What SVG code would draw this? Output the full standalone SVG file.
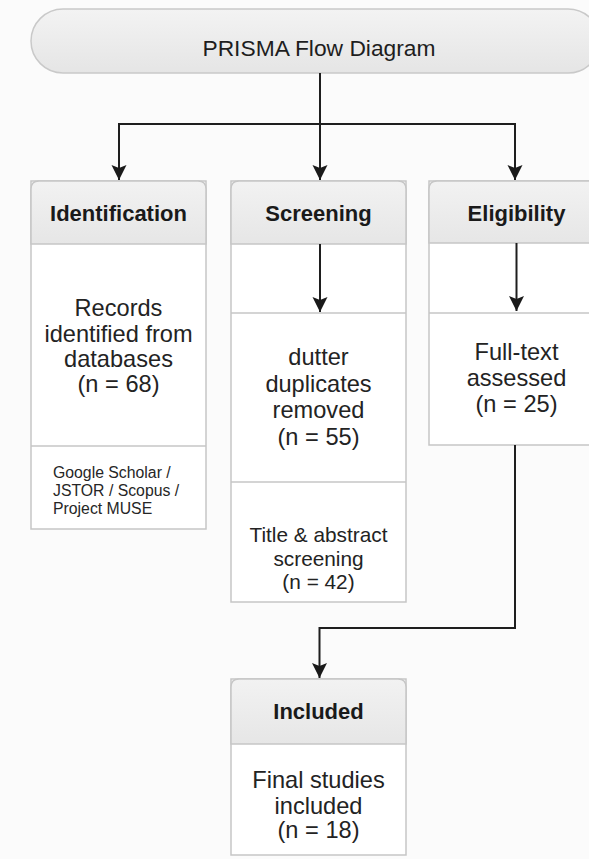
<svg xmlns="http://www.w3.org/2000/svg" width="589" height="859" viewBox="0 0 589 859">
  <defs>
    <linearGradient id="hdr" x1="0" y1="0" x2="0" y2="1">
      <stop offset="0" stop-color="#f2f2f2"/>
      <stop offset="1" stop-color="#e6e6e6"/>
    </linearGradient>
    <linearGradient id="pill" x1="0" y1="0" x2="0" y2="1">
      <stop offset="0" stop-color="#f3f3f3"/>
      <stop offset="1" stop-color="#e5e5e5"/>
    </linearGradient>
    <marker id="arr" markerUnits="userSpaceOnUse" markerWidth="15" markerHeight="16" refX="15" refY="7.5" orient="auto">
      <path d="M0,0 L15,7.5 L0,15 L3,7.5 z" fill="#1a1a1a"/>
    </marker>
  </defs>
  <style>
    .box { fill: #ffffff; stroke: #c6c6c6; stroke-width: 1.5; }
    .hdr { fill: url(#hdr); stroke: #c6c6c6; stroke-width: 1.5; }
    .sep { stroke: #c6c6c6; stroke-width: 1.5; fill: none; }
    .title { font-family: "Liberation Sans", Arial, sans-serif; font-size: 22.8px; fill: #1e1e1e; text-anchor: middle; }
    .head { font-family: "Liberation Sans", Arial, sans-serif; font-size: 22px; font-weight: bold; fill: #1a1a1a; text-anchor: middle; }
    .body { font-family: "Liberation Sans", Arial, sans-serif; font-size: 23.6px; fill: #232323; text-anchor: middle; }
    .body2 { font-family: "Liberation Sans", Arial, sans-serif; font-size: 20.8px; fill: #232323; text-anchor: middle; }
    .small { font-family: "Liberation Sans", Arial, sans-serif; font-size: 15.8px; fill: #262626; }
    .con { stroke: #1e1e1e; stroke-width: 2; fill: none; }
  </style>
  <rect x="0" y="0" width="589" height="859" fill="#fbfbfb"/>

  <g id="title">
    <rect x="31" y="9" width="569" height="64" rx="32" ry="32" fill="url(#pill)" stroke="#c9c9c9" stroke-width="1.5"/>
    <text class="title" x="319" y="56">PRISMA Flow Diagram</text>
  </g>

  <g id="identification">
    <rect class="box" x="31" y="181" width="175" height="348"/>
    <path class="hdr" d="M31,244 L31,189 Q31,181 39,181 L198,181 Q206,181 206,189 L206,244 Z"/>
    <text class="head" x="118.5" y="221">Identification</text>
    <text class="body" x="118.5" y="316">Records</text>
    <text class="body" x="118.5" y="341.5">identified from</text>
    <text class="body" x="118.5" y="367">databases</text>
    <text class="body" x="118.5" y="392">(n = 68)</text>
    <line class="sep" x1="31" y1="446" x2="206" y2="446"/>
    <text class="small" x="53" y="478">Google Scholar /</text>
    <text class="small" x="53" y="496">JSTOR / Scopus /</text>
    <text class="small" x="53" y="513.5">Project MUSE</text>
  </g>

  <g id="screening">
    <rect class="box" x="231" y="181" width="175" height="421"/>
    <path class="hdr" d="M231,244 L231,189 Q231,181 239,181 L398,181 Q406,181 406,189 L406,244 Z"/>
    <text class="head" x="318.5" y="221">Screening</text>
    <line class="sep" x1="231" y1="313" x2="406" y2="313"/>
    <text class="body" x="318.5" y="365">dutter</text>
    <text class="body" x="318.5" y="391.5">duplicates</text>
    <text class="body" x="318.5" y="418">removed</text>
    <text class="body" x="318.5" y="444.5">(n = 55)</text>
    <line class="sep" x1="231" y1="482" x2="406" y2="482"/>
    <text class="body2" x="318.5" y="541.5">Title &amp; abstract</text>
    <text class="body2" x="318.5" y="566">screening</text>
    <text class="body2" x="318.5" y="589">(n = 42)</text>
  </g>

  <g id="eligibility">
    <rect class="box" x="429" y="181" width="175" height="264"/>
    <path class="hdr" d="M429,243 L429,189 Q429,181 437,181 L596,181 Q604,181 604,189 L604,243 Z"/>
    <text class="head" x="516.5" y="221">Eligibility</text>
    <line class="sep" x1="429" y1="313" x2="604" y2="313"/>
    <text class="body" x="516.5" y="360">Full-text</text>
    <text class="body" x="516.5" y="386">assessed</text>
    <text class="body" x="516.5" y="412">(n = 25)</text>
  </g>

  <g id="included">
    <rect class="box" x="231" y="679" width="175" height="176"/>
    <path class="hdr" d="M231,744 L231,687 Q231,679 239,679 L398,679 Q406,679 406,687 L406,744 Z"/>
    <text class="head" x="318.5" y="719">Included</text>
    <text class="body" x="318.5" y="788">Final studies</text>
    <text class="body" x="318.5" y="814">included</text>
    <text class="body" x="318.5" y="838">(n = 18)</text>
  </g>

  <g id="connectors">
    <line class="con" x1="320" y1="73" x2="320" y2="180" marker-end="url(#arr)"/>
    <polyline class="con" points="119,180 119,124 515,124 515,180" marker-end="url(#arr)"/>
    <line class="con" x1="119" y1="124" x2="119" y2="180" marker-end="url(#arr)"/>
    <line class="con" x1="320" y1="244" x2="320" y2="312" marker-end="url(#arr)"/>
    <line class="con" x1="516.5" y1="243" x2="516.5" y2="311" marker-end="url(#arr)"/>
    <polyline class="con" points="515,445 515,628 319.5,628 319.5,678" marker-end="url(#arr)"/>
  </g>
</svg>
